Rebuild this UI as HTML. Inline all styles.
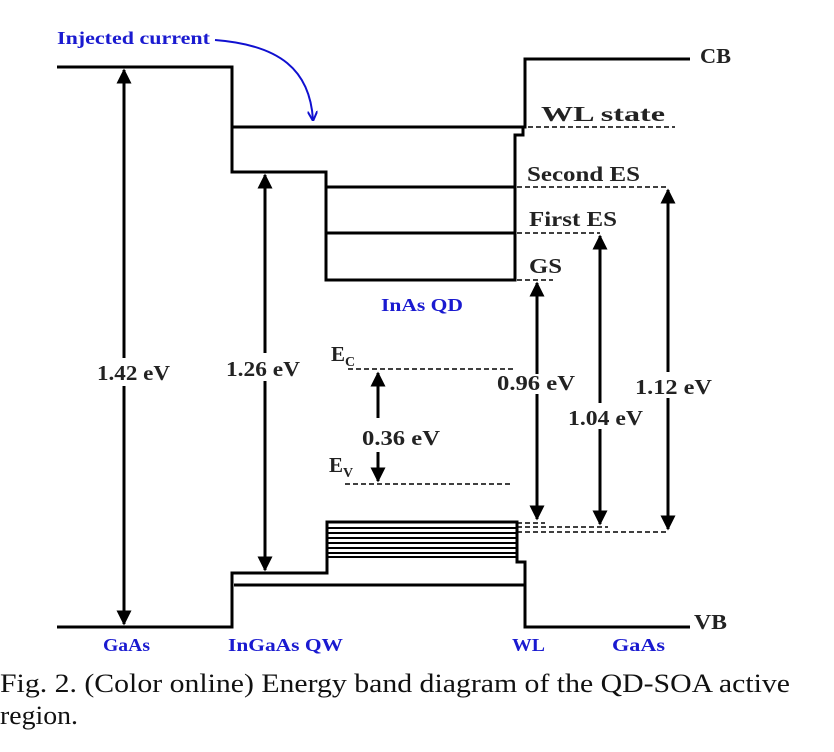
<!DOCTYPE html>
<html><head><meta charset="utf-8"><style>body{margin:0;background:#fff}svg{display:block}</style></head>
<body>
<svg width="834" height="752" viewBox="0 0 834 752" xmlns="http://www.w3.org/2000/svg" font-family="Liberation Serif, serif">
<defs>
<marker id="a" viewBox="0 0 10 10" refX="9" refY="5" markerWidth="5" markerHeight="5" orient="auto-start-reverse"><path d="M0,0 L10,5 L0,10z" fill="#000"/></marker>
<marker id="b" viewBox="0 0 10 10" refX="9" refY="5" markerWidth="5" markerHeight="5" orient="auto"><path d="M0,0 L10,5 L0,10" fill="none" stroke="#1010d0" stroke-width="2"/></marker>
</defs>
<g fill="none" stroke="#000" stroke-width="3">
<path d="M57,67 H232 V172 H326 V280 H515 V135 H523 V127"/>
<path d="M232,127 H525 V59 H690"/>
<path d="M326,187 H515 M326,233 H515"/>
<path d="M57,627 H232 V573 H327 V522 H517 V562 H525 V627 H690"/>
<path d="M234,585 H525"/>
<g stroke-width="2"><path d="M327,528 H517 M327,533 H517 M327,538 H517 M327,543 H517 M327,548 H517 M327,553 H517 M327,557 H517"/></g>
</g>
<g fill="#fff"><rect x="92" y="358" width="82" height="28"/><rect x="222" y="353" width="82" height="28"/><rect x="495" y="372" width="84" height="24"/><rect x="566" y="403" width="80" height="26"/><rect x="630" y="372" width="84" height="26"/></g>
<g fill="none" stroke="#000" stroke-width="1.6" stroke-dasharray="5,3">
<path d="M528,127 H675 M517,187 H668 M517,233 H600 M517,280 H553"/>
<path d="M517,523 H545 M517,527 H608 M517,532 H668"/>
<path d="M348,369 H515 M345,484 H513"/>
</g>
<g stroke="#000" stroke-width="3" marker-start="url(#a)" marker-end="url(#a)">
<line x1="124" y1="70" x2="124" y2="624"/>
<line x1="265" y1="175" x2="265" y2="570"/>
<line x1="537" y1="283" x2="537" y2="519"/>
<line x1="600" y1="236" x2="600" y2="524"/>
<line x1="668" y1="190" x2="668" y2="529"/>
</g>
<g stroke="#000" stroke-width="3">
<line x1="378" y1="418" x2="378" y2="373" marker-end="url(#a)"/>
<line x1="378" y1="452" x2="378" y2="481" marker-end="url(#a)"/>
</g>
<g fill="#fff"><rect x="92" y="358" width="82" height="28"/><rect x="222" y="353" width="82" height="28"/><rect x="566" y="403" width="80" height="26"/><rect x="630" y="372" width="84" height="26"/><rect x="497" y="374" width="80" height="20"/></g>
<g font-weight="bold" font-size="21" fill="#222">
<text x="97" y="380" textLength="73" lengthAdjust="spacingAndGlyphs">1.42 eV</text>
<text x="226" y="376" textLength="74" lengthAdjust="spacingAndGlyphs">1.26 eV</text>
<text x="497" y="390" textLength="78" lengthAdjust="spacingAndGlyphs">0.96 eV</text>
<text x="568" y="425" textLength="75" lengthAdjust="spacingAndGlyphs">1.04 eV</text>
<text x="635" y="394" textLength="77" lengthAdjust="spacingAndGlyphs">1.12 eV</text>
<text x="362" y="445" textLength="78" lengthAdjust="spacingAndGlyphs">0.36 eV</text>
<text x="331" y="361">E<tspan font-size="14" dy="5">C</tspan></text>
<text x="329" y="472">E<tspan font-size="14" dy="5">V</tspan></text>
<text x="541" y="121" textLength="124" lengthAdjust="spacingAndGlyphs">WL state</text>
<text x="527" y="181" textLength="113" lengthAdjust="spacingAndGlyphs">Second ES</text>
<text x="529" y="226" textLength="88" lengthAdjust="spacingAndGlyphs">First ES</text>
<text x="529" y="273" textLength="33" lengthAdjust="spacingAndGlyphs">GS</text>
<text x="700" y="63" textLength="31" lengthAdjust="spacingAndGlyphs">CB</text>
<text x="694" y="629" textLength="33" lengthAdjust="spacingAndGlyphs">VB</text>
</g>
<g font-weight="bold" font-size="18" fill="#1a1ad0">
<text x="57" y="44" textLength="153" lengthAdjust="spacingAndGlyphs">Injected current</text>
<text x="381" y="311" textLength="82" lengthAdjust="spacingAndGlyphs">InAs QD</text>
<text x="103" y="651" textLength="47" lengthAdjust="spacingAndGlyphs">GaAs</text>
<text x="228" y="651" textLength="115" lengthAdjust="spacingAndGlyphs">InGaAs QW</text>
<text x="512" y="651" textLength="33" lengthAdjust="spacingAndGlyphs">WL</text>
<text x="612" y="651" textLength="53" lengthAdjust="spacingAndGlyphs">GaAs</text>
</g>
<path d="M215,40 C280,45 310,70 313,120" fill="none" stroke="#1010d0" stroke-width="2" marker-end="url(#b)"/>
<g font-size="26" fill="#111">
<text x="0" y="692" textLength="790" lengthAdjust="spacingAndGlyphs">Fig. 2.   (Color online) Energy band diagram of the QD-SOA active</text>
<text x="0" y="724" textLength="78" lengthAdjust="spacingAndGlyphs">region.</text>
</g>
</svg>
</body></html>
